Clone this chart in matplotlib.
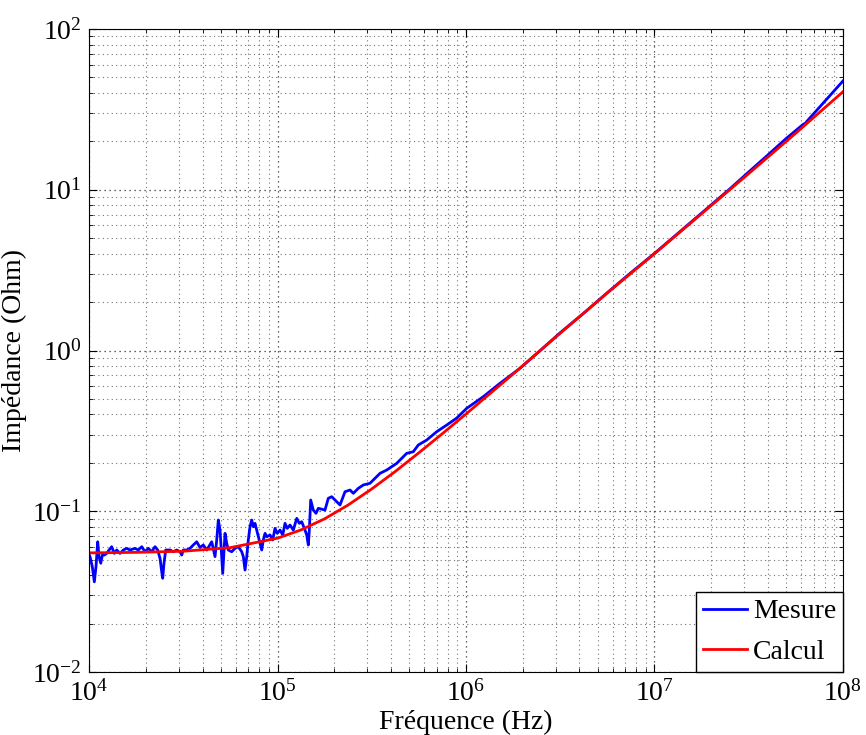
import matplotlib.pyplot as plt
from matplotlib.ticker import LogLocator, NullFormatter

plt.rcParams['font.family'] = 'Liberation Serif'
plt.rcParams['mathtext.fontset'] = 'custom'
plt.rcParams['mathtext.rm'] = 'Liberation Serif'
plt.rcParams['axes.unicode_minus'] = False

# ---------------- donnees ---------------- #

# Mesure (Hz, Ohm)
freq_mesure = [
    1.00e4, 1.012e4, 1.041e4, 1.067e4, 1.089e4, 1.112e4, 1.130e4, 1.154e4, 1.177e4, 1.206e4,
    1.241e4, 1.277e4, 1.319e4, 1.362e4, 1.403e4, 1.460e4, 1.521e4, 1.585e4, 1.650e4, 1.754e4,
    1.826e4, 1.904e4, 1.982e4, 2.064e4, 2.150e4, 2.239e4, 2.314e4, 2.380e4, 2.430e4, 2.460e4,
    2.499e4, 2.552e4, 2.690e4, 2.801e4, 2.920e4, 3.040e4, 3.103e4, 3.165e4, 3.299e4, 3.435e4,
    3.575e4, 3.727e4, 3.880e4, 4.040e4, 4.211e4, 4.477e4, 4.661e4, 4.759e4, 4.852e4, 4.955e4,
    5.121e4, 5.267e4, 5.377e4, 5.483e4, 5.715e4, 5.950e4, 6.195e4, 6.458e4, 6.586e4, 6.724e4,
    6.865e4, 7.000e4, 7.147e4, 7.297e4, 7.441e4, 7.597e4, 7.910e4, 8.077e4, 8.246e4, 8.409e4,
    8.586e4, 8.765e4, 9.126e4, 9.431e4, 9.699e4, 9.975e4, 1.031e5, 1.066e5, 1.096e5, 1.127e5,
    1.165e5, 1.213e5, 1.265e5, 1.305e5, 1.344e5, 1.399e5, 1.429e5, 1.457e5, 1.475e5, 1.500e5,
    1.548e5, 1.600e5, 1.646e5, 1.786e5, 1.860e5, 1.939e5, 2.018e5, 2.146e5, 2.281e5, 2.425e5,
    2.525e5, 2.683e5, 2.852e5, 3.095e5, 3.289e5, 3.499e5, 3.796e5, 4.035e5, 4.290e5, 4.560e5,
    4.846e5, 5.253e5, 5.583e5, 6.188e5, 6.993e5, 7.902e5, 8.928e5, 1.009e6, 1.235e6, 1.515e6,
    1.934e6, 2.50e6, 3.16e6, 4.22e6, 5.62e6, 7.50e6, 1.00e7, 1.33e7, 1.78e7, 2.48e7,
    3.16e7, 3.98e7, 5.01e7, 5.89e7, 6.17e7, 6.31e7, 6.46e7, 7.94e7, 1.00e8,
]
z_mesure = [
    0.0540, 0.0522, 0.0452, 0.0364, 0.0452, 0.0646, 0.0522, 0.0475, 0.0534, 0.0534,
    0.0547, 0.0574, 0.0602, 0.0547, 0.0574, 0.0547, 0.0574, 0.0588, 0.0574, 0.0588,
    0.0574, 0.0602, 0.0560, 0.0588, 0.0560, 0.0602, 0.0574, 0.0510, 0.0421, 0.0383,
    0.0475, 0.0574, 0.0574, 0.0560, 0.0574, 0.0560, 0.0534, 0.0574, 0.0574, 0.0588,
    0.0617, 0.0646, 0.0595, 0.0617, 0.0574, 0.0646, 0.0522, 0.0663, 0.0882, 0.0764,
    0.0411, 0.0729, 0.0632, 0.0574, 0.0560, 0.0588, 0.0602, 0.0560, 0.0522, 0.0431,
    0.0522, 0.0663, 0.0801, 0.0882, 0.0801, 0.0841, 0.0694, 0.0632, 0.0574, 0.0663,
    0.0729, 0.0694, 0.0712, 0.0663, 0.0783, 0.0729, 0.0764, 0.0712, 0.0841, 0.0783,
    0.0821, 0.0764, 0.0904, 0.0841, 0.0861, 0.0764, 0.0712, 0.0617, 0.0764, 0.1175,
    0.1018, 0.0971, 0.1043, 0.1018, 0.1204, 0.1232, 0.1175, 0.1094, 0.1323, 0.1356,
    0.1293, 0.1389, 0.1457, 0.1493, 0.1603, 0.1722, 0.1805, 0.1893, 0.1987, 0.2135,
    0.2293, 0.2346, 0.2583, 0.2774, 0.3126, 0.3439, 0.3800, 0.4370, 0.5161, 0.6252,
    0.7750, 1.01, 1.29, 1.71, 2.29, 3.05, 4.02, 5.35, 7.15, 10.0,
    12.9, 16.4, 20.9, 24.5, 25.6, 25.9, 26.8, 35.1, 47.5,
]

# Calcul (Hz, Ohm)
freq_calcul = [
    1.00e4, 1.78e4, 3.16e4, 5.62e4, 1.00e5, 1.33e5, 1.78e5, 2.37e5, 3.16e5, 4.22e5,
    5.62e5, 7.50e5, 1.00e6, 1.33e6, 1.78e6, 3.16e6, 5.62e6, 1.00e7, 1.78e7, 3.16e7,
    5.62e7, 1.00e8,
]
z_calcul = [
    0.0551, 0.0555, 0.0564, 0.0594, 0.0680, 0.0765, 0.0898, 0.1094, 0.1376, 0.1770,
    0.2310, 0.3042, 0.4027, 0.535, 0.715, 1.28, 2.28, 4.00, 7.10, 12.6,
    22.5, 40.7,
]

# ---------------- figure ---------------- #

fig = plt.figure(figsize=(8.66, 7.35), dpi=100)
ax = fig.add_axes([0.1028, 0.0857, 0.8706, 0.8748])

ax.loglog(freq_mesure, z_mesure, color='#0000ff', lw=2.0, label='Mesure')
ax.loglog(freq_calcul, z_calcul, color='#ff0000', lw=2.0, label='Calcul')

ax.set_xlim(1e4, 1e8)
ax.set_ylim(1e-2, 1e2)

for axis in (ax.xaxis, ax.yaxis):
    axis.set_major_locator(LogLocator(base=10, numticks=10))
    axis.set_minor_locator(LogLocator(base=10, subs=range(2, 10), numticks=20))
    axis.set_minor_formatter(NullFormatter())

# grille pointillee facon MATLAB
ax.grid(True, which='major', ls=(0, (1, 3)), color='0.2', lw=0.9)
ax.grid(True, which='minor', ls=(0, (1, 3)), color='0.45', lw=0.8)
ax.set_axisbelow(True)

ax.tick_params(which='both', direction='in', top=True, right=True, labelsize=20)
ax.tick_params(which='major', length=6)
ax.tick_params(which='minor', length=3)
ax.tick_params(axis='x', which='major', pad=6)
ax.tick_params(axis='y', which='major', pad=5)

ax.set_xlabel('Fréquence (Hz)', fontsize=20, labelpad=2)
ax.set_ylabel('Impédance (Ohm)', fontsize=20, labelpad=4)

leg = ax.legend(loc='lower right', fontsize=20, fancybox=False, edgecolor='black',
                framealpha=1, borderaxespad=0, handlelength=1.6, handletextpad=0.2,
                borderpad=0.25, labelspacing=0.55)
leg.get_frame().set_linewidth(1.0)

plt.savefig('out.png', dpi=100)
